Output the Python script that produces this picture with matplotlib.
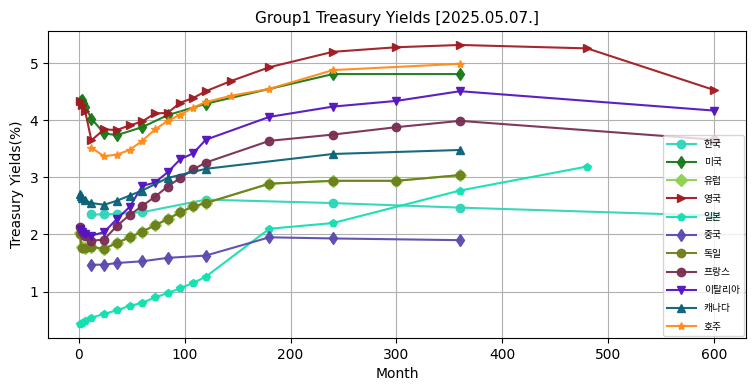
import matplotlib
matplotlib.use("Agg")
import matplotlib.pyplot as plt

plt.rcParams['font.family'] = ['DejaVu Sans', 'Noto Sans CJK KR']

title = "Group1 Treasury Yields [2025.05.07.]"

kr_m = [12, 24, 36, 60, 120, 240, 360, 600]
kr_y = [2.35, 2.35, 2.36, 2.39, 2.61, 2.55, 2.47, 2.33]

us_m = [1, 2, 3, 4, 6, 12, 24, 36, 60, 84, 120, 240, 360]
us_y = [4.32, 4.34, 4.35, 4.31, 4.24, 4.03, 3.77, 3.74, 3.88, 4.09, 4.29, 4.81, 4.81]

eu_m = [1, 3, 6, 12, 24, 36, 48, 60, 72, 84, 96, 108, 120, 180, 240, 300, 360]
eu_y = [2.02, 1.78, 1.77, 1.78, 1.75, 1.85, 1.95, 2.05, 2.16, 2.27, 2.39, 2.49, 2.55, 2.89, 2.94, 2.94, 3.04]

uk_m = [1, 3, 6, 12, 24, 36, 48, 60, 72, 84, 96, 108, 120, 144, 180, 240, 300, 360, 480, 600]
uk_y = [4.33, 4.27, 4.17, 3.65, 3.84, 3.83, 3.91, 3.98, 4.12, 4.13, 4.31, 4.39, 4.51, 4.69, 4.93, 5.20, 5.28, 5.32, 5.26, 4.53]

jp_m = [1, 3, 6, 12, 24, 36, 48, 60, 72, 84, 96, 108, 120, 180, 240, 360, 480]
jp_y = [0.43, 0.44, 0.48, 0.54, 0.61, 0.67, 0.75, 0.80, 0.90, 0.97, 1.06, 1.15, 1.26, 2.10, 2.20, 2.77, 3.19]

cn_m = [12, 24, 36, 60, 84, 120, 180, 240, 360]
cn_y = [1.47, 1.47, 1.50, 1.53, 1.59, 1.63, 1.95, 1.93, 1.90]

de_m = [1, 3, 6, 12, 24, 36, 48, 60, 72, 84, 96, 108, 120, 180, 240, 300, 360]
de_y = [2.00, 1.77, 1.76, 1.78, 1.75, 1.85, 1.95, 2.05, 2.16, 2.27, 2.39, 2.49, 2.55, 2.89, 2.94, 2.94, 3.04]

fr_m = [1, 3, 6, 12, 24, 36, 48, 60, 72, 84, 96, 108, 120, 180, 240, 300, 360, 600]
fr_y = [2.13, 2.04, 1.97, 1.89, 1.91, 2.15, 2.34, 2.50, 2.66, 2.84, 2.99, 3.14, 3.26, 3.64, 3.75, 3.88, 3.99, 3.66]

it_m = [1, 3, 6, 12, 24, 36, 48, 60, 72, 84, 96, 108, 120, 180, 240, 300, 360, 600]
it_y = [2.10, 2.04, 2.01, 1.98, 2.04, 2.27, 2.48, 2.85, 2.91, 3.09, 3.32, 3.42, 3.66, 4.06, 4.24, 4.34, 4.51, 4.17]

ca_m = [1, 2, 3, 6, 12, 24, 36, 48, 60, 84, 120, 240, 360]
ca_y = [2.71, 2.67, 2.64, 2.60, 2.55, 2.52, 2.59, 2.68, 2.77, 2.99, 3.15, 3.41, 3.48]

au_m = [12, 24, 36, 48, 60, 72, 84, 96, 108, 120, 144, 180, 240, 360]
au_y = [3.52, 3.37, 3.40, 3.48, 3.64, 3.84, 3.99, 4.10, 4.22, 4.32, 4.43, 4.55, 4.88, 4.99]

series = [
    ("한국", kr_m, kr_y, "o", "#2fd5b8"),
    ("미국", us_m, us_y, "d", "#177a17"),
    ("유럽", eu_m, eu_y, "D", "#8fd14f"),
    ("영국", uk_m, uk_y, ">", "#a01c22"),
    ("일본", jp_m, jp_y, "p", "#12e0b0"),
    ("중국", cn_m, cn_y, "d", "#5a4bb0"),
    ("독일", de_m, de_y, "o", "#6e7f1c"),
    ("프랑스", fr_m, fr_y, "o", "#7a2e52"),
    ("이탈리아", it_m, it_y, "v", "#5514c0"),
    ("캐나다", ca_m, ca_y, "^", "#0b6278"),
    ("호주", au_m, au_y, "*", "#ff8c1a"),
]

fig = plt.figure(figsize=(7.55, 3.91), dpi=100)
ax = fig.add_axes([0.0636, 0.1355, 0.9245, 0.7852])

for name, m, y, mk, c in series:
    ax.plot(m, y, marker=mk, color=c, label=name, linewidth=1.5, markersize=6, alpha=0.95)

ax.grid(True)
ax.set_title(title, fontsize=11)
ax.set_xlabel("Month", fontsize=10)
ax.set_ylabel("Treasury Yields(%)", fontsize=10)
ax.legend(loc="lower right", prop={'family': ['Noto Sans CJK KR', 'DejaVu Sans'], 'size': 7},
          handlelength=3.0, borderaxespad=0.25, labelspacing=0.85)

fig.savefig("out.png", dpi=100)
